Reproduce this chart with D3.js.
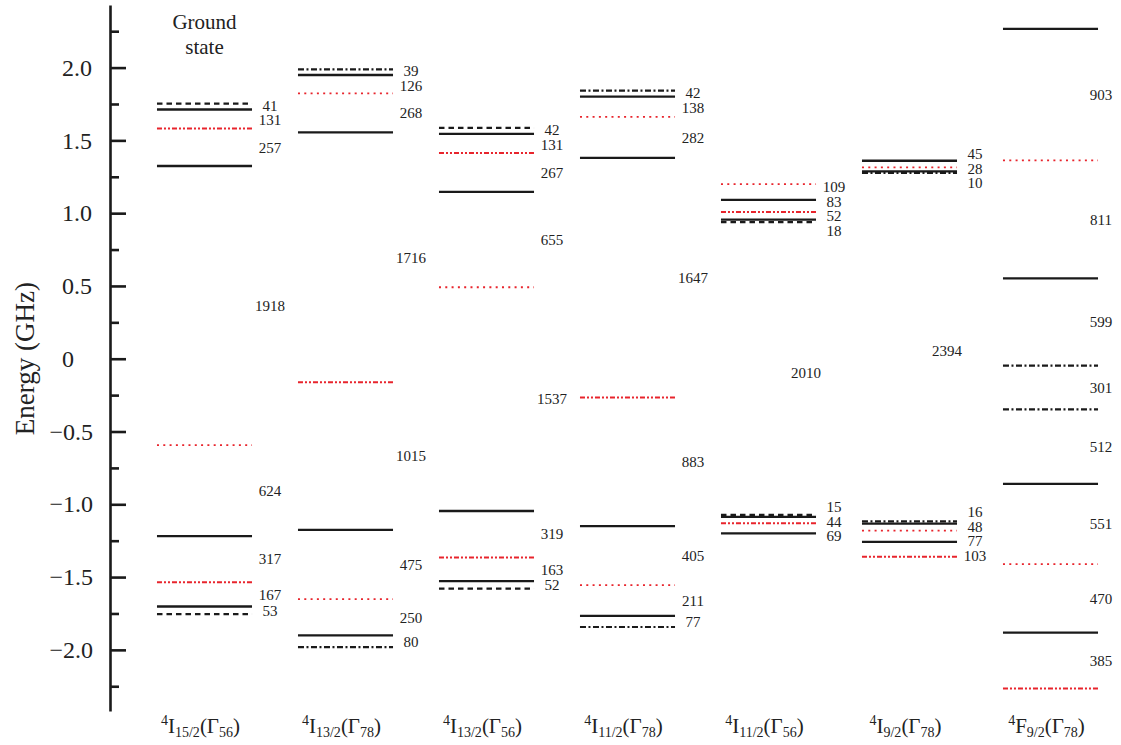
<!DOCTYPE html>
<html>
<head>
<meta charset="utf-8">
<script src="https://cdn.jsdelivr.net/npm/d3@7/dist/d3.min.js"></script>
<style>
  body { margin: 0; background: #fff; }
</style>
</head>
<body>
<div id="chart"></div>
<script>
// manifolds (x categories)
const termJ = ['15/2', '13/2', '13/2', '11/2', '11/2', '9/2', '9/2']
const termL = ['I', 'I', 'I', 'I', 'I', 'I', 'F']
const termGamma = ['56', '78', '56', '78', '56', '78', '78']
const categories = termJ.map((j, i) => '4' + termL[i] + j + '(Γ' + termGamma[i] + ')')

// hyperfine level energies (GHz), top to bottom
const levels15_56 = [1.753, 1.712, 1.581, 1.324, -0.594, -1.218, -1.535, -1.702, -1.755]
const levels13_78 = [1.988, 1.949, 1.823, 1.555, -0.161, -1.176, -1.651, -1.901, -1.981]
const levels13_56 = [1.586, 1.544, 1.413, 1.146, 0.491, -1.046, -1.365, -1.528, -1.580]
const levels11_78 = [1.842, 1.800, 1.662, 1.380, -0.267, -1.150, -1.555, -1.766, -1.843]
const levels11_56 = [1.200, 1.091, 1.008, 0.956, 0.938, -1.072, -1.087, -1.131, -1.200]
const levels9_78 = [1.360, 1.315, 1.287, 1.277, -1.117, -1.133, -1.181, -1.258, -1.361]
const levelsF9_78 = [2.266, 1.363, 0.552, -0.047, -0.348, -0.860, -1.411, -1.881, -2.266]

// level kind (which line style it is drawn with)
const kinds15_56 = ['dash', 'solid', 'ddot', 'solid', 'dot', 'solid', 'ddot', 'solid', 'dash']
const kinds13_78 = ['dashdot', 'solid', 'dot', 'solid', 'ddot', 'solid', 'dot', 'solid', 'dashdot']
const kinds13_56 = ['dash', 'solid', 'ddot', 'solid', 'dot', 'solid', 'ddot', 'solid', 'dash']
const kinds11_78 = ['dashdot', 'solid', 'dot', 'solid', 'ddot', 'solid', 'dot', 'solid', 'dashdot']
const kinds11_56 = ['dot', 'solid', 'ddot', 'solid', 'dash', 'dash', 'solid', 'ddot', 'solid']
const kinds9_78 = ['solid', 'dot', 'solid', 'dashdot', 'dashdot', 'solid', 'dot', 'solid', 'ddot']
const kindsF9_78 = ['solid', 'dot', 'solid', 'dashdot', 'dashdot', 'solid', 'dot', 'solid', 'ddot']

// splittings between neighbouring levels (MHz)
const gaps15_56 = [41, 131, 257, 1918, 624, 317, 167, 53]
const gaps13_78 = [39, 126, 268, 1716, 1015, 475, 250, 80]
const gaps13_56 = [42, 131, 267, 655, 1537, 319, 163, 52]
const gaps11_78 = [42, 138, 282, 1647, 883, 405, 211, 77]
const gaps11_56 = [109, 83, 52, 18, 2010, 15, 44, 69]
const gaps9_78 = [45, 28, 10, 2394, 16, 48, 77, 103]
const gapsF9_78 = [903, 811, 599, 301, 512, 551, 470, 385]

const yTicks = [-2, -1.5, -1, -0.5, 0, 0.5, 1, 1.5, 2]
const yMinorTicks = [-2.25, -1.75, -1.25, -0.75, -0.25, 0.25, 0.75, 1.25, 1.75, 2.25]

const allLevels = [levels15_56, levels13_78, levels13_56, levels11_78, levels11_56, levels9_78, levelsF9_78]
const allKinds = [kinds15_56, kinds13_78, kinds13_56, kinds11_78, kinds11_56, kinds9_78, kindsF9_78]
const allGaps = [gaps15_56, gaps13_78, gaps13_56, gaps11_78, gaps11_56, gaps9_78, gapsF9_78]

const width = 1121
const height = 745
const font = '"Liberation Serif", "Times New Roman", serif'
const ink = '#222'
const red = '#e8242c'
const styles = {
  solid: { color: '#1a1a1a', dash: null, w: 2.3 },
  dash: { color: '#1a1a1a', dash: '5.5,4', w: 2.2 },
  dashdot: { color: '#1a1a1a', dash: '6,2.5,2,2.5', w: 2.2 },
  dot: { color: red, dash: '2,4.3', w: 1.8 },
  ddot: { color: red, dash: '5,2,2,2,2,2', w: 2 }
}

const svg = d3.select('#chart').append('svg')
  .attr('width', width)
  .attr('height', height)
  .style('font-family', font)

const y = d3.scaleLinear().domain([-2.42, 2.43]).range([711, 5])
const x = d3.scaleBand().domain(categories).range([134, 1121])
  .paddingInner(0.326).paddingOuter(0.163)

// axis
const axis = svg.append('g').attr('transform', 'translate(110,0)')
axis.call(d3.axisLeft(y).tickValues(yTicks).tickSize(-16).tickSizeOuter(0).tickPadding(17)
  .tickFormat(d => d === 0 ? '0' : d3.format('.1f')(d)))
axis.select('.domain').attr('stroke', '#1a1a1a').attr('stroke-width', 2.6)
axis.selectAll('.tick line').attr('stroke', '#1a1a1a').attr('stroke-width', 2.6)
axis.selectAll('.tick text')
  .style('font-family', font)
  .style('font-size', '24px')
  .attr('fill', ink)
  .filter(d => d >= 0)
  .attr('text-anchor', 'start')
  .attr('x', -48)
const minor = svg.append('g').attr('transform', 'translate(110,0)')
minor.call(d3.axisLeft(y).tickValues(yMinorTicks).tickSize(-9).tickSizeOuter(0).tickFormat(''))
minor.select('.domain').remove()
minor.selectAll('.tick line').attr('stroke', '#1a1a1a').attr('stroke-width', 2.6)

svg.append('text')
  .attr('transform', `translate(34,${y(0)}) rotate(-90)`)
  .attr('text-anchor', 'middle')
  .attr('fill', ink)
  .style('font-family', font)
  .style('font-size', '27px')
  .text('Energy (GHz)')

// spread overlapping labels apart, keeping clusters centred
function spread(pos, minGap) {
  let clusters = pos.map(p => ({ ps: [p], c: p }))
  let moved = true
  while (moved) {
    moved = false
    for (let i = 0; i < clusters.length - 1; i++) {
      const a = clusters[i], b = clusters[i + 1]
      const aEnd = a.c + (a.ps.length - 1) * minGap / 2
      const bStart = b.c - (b.ps.length - 1) * minGap / 2
      if (bStart - aEnd < minGap) {
        const ps = a.ps.concat(b.ps)
        clusters.splice(i, 2, { ps: ps, c: d3.mean(ps) })
        moved = true
        break
      }
    }
  }
  const out = []
  clusters.forEach(cl => cl.ps.forEach((p, k) => out.push(cl.c + (k - (cl.ps.length - 1) / 2) * minGap)))
  return out
}

categories.forEach((cat, ci) => {
  const g = svg.append('g')
  const x0 = x(cat)
  const x1 = x0 + x.bandwidth()
  const lv = allLevels[ci].map((e, k) => ({ e: e, kind: allKinds[ci][k] }))

  g.selectAll('line')
    .data(lv)
    .enter()
    .append('line')
    .attr('x1', x0)
    .attr('x2', x1)
    .attr('y1', d => y(d.e))
    .attr('y2', d => y(d.e))
    .attr('stroke', d => styles[d.kind].color)
    .attr('stroke-width', d => styles[d.kind].w)
    .attr('stroke-dasharray', d => styles[d.kind].dash)

  const mids = allGaps[ci].map((v, k) => (y(allLevels[ci][k]) + y(allLevels[ci][k + 1])) / 2)
  const ly = spread(mids, 14.5)
  const lx = Math.min(x1 + 18, width - 20)
  g.selectAll('text.gap')
    .data(allGaps[ci])
    .enter()
    .append('text')
    .attr('class', 'gap')
    .attr('x', d => d > 2000 ? lx - 28 : lx)
    .attr('y', (d, k) => ly[k] + (allGaps[ci][k] > 2000 ? 4 : 0))
    .attr('dy', '0.35em')
    .attr('text-anchor', 'middle')
    .attr('fill', ink)
    .style('font-family', font)
    .style('font-size', '15px')
    .text(d => d)

  // manifold label with super/subscripts
  const t = svg.append('text')
    .attr('x', x0 + x.bandwidth() / 2 - 4)
    .attr('y', 733)
    .attr('text-anchor', 'middle')
    .attr('fill', ink)
    .style('font-family', font)
    .style('font-size', '21px')
  t.append('tspan').style('font-size', '14px').attr('dy', -8).text('4')
  t.append('tspan').attr('dy', 8).text(termL[ci])
  t.append('tspan').style('font-size', '14px').attr('dy', 4).text(termJ[ci])
  t.append('tspan').attr('dy', -4).text('(Γ')
  t.append('tspan').style('font-size', '14px').attr('dy', 4).text(termGamma[ci])
  t.append('tspan').attr('dy', -4).text(')')
})

const gs = svg.append('text')
  .attr('text-anchor', 'middle')
  .attr('fill', ink)
  .style('font-family', font)
  .style('font-size', '21px')
gs.append('tspan').attr('x', x(categories[0]) + x.bandwidth() / 2).attr('y', 29).text('Ground')
gs.append('tspan').attr('x', x(categories[0]) + x.bandwidth() / 2).attr('y', 54).text('state')
</script>
</body>
</html>
